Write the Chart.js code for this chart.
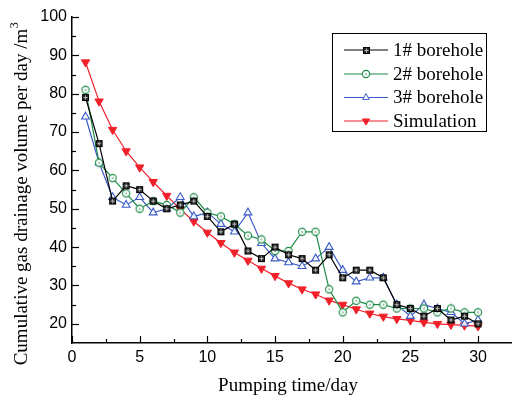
<!DOCTYPE html>
<html>
<head>
<meta charset="utf-8">
<script src="https://cdn.jsdelivr.net/npm/chart.js@4/dist/chart.umd.min.js"></script>
<style>
html,body{margin:0;padding:0;background:#fff;}
#wrap{width:517px;height:396px;}
</style>
</head>
<body>
<div id="wrap"><canvas id="c" width="517" height="396"></canvas></div>
<script>
// ---- data ----
const days = [1,2,3,4,5,6,7,8,9,10,11,12,13,14,15,16,17,18,19,20,21,22,23,24,25,26,27,28,29,30];
const borehole1 = [79,67,52,56,55,52,50,51,52,48,44,46,39,37,40,38,37,34,38,32,34,34,32,25,24,22,24,21,22,20];
const borehole2 = [81,62,58,54,50,52,51,49,53,49,48,46,43,42,39,39,44,44,29,23,26,25,25,24,24,24,23,24,23,23];
const borehole3 = [74,62,53,51,53,49,50,53,48,49,46,44,49,41,37,36,35,37,40,34,31,32,32,25,22,25,24,23,20,21];
const simulation = [88.2,78,70.6,65,60.8,57,53.4,49.9,46.7,43.8,41.1,38.6,36.5,34.4,32.5,30.6,29,27.7,26.1,25,23.8,22.7,21.9,21.3,20.9,20.4,20,19.8,19.6,19.4];
const seriesLabels = ['1# borehole','2# borehole','3# borehole','Simulation'];
const xTickValues = [0,5,10,15,20,25,30];
const yTickValues = [20,30,40,50,60,70,80,90,100];
const xTitle = 'Pumping time/day';
const yTitle = 'Cumulative gas drainage volume per day /m';
const yTitleSup = '3';

const SERIF = '"Liberation Serif", "DejaVu Serif", serif';
const SANS = '"Liberation Sans", Arial, sans-serif';

const COL = { b1:'#000000', b2:'#1b8a44', b3:'#3b5cc6', sim:'#f0202a' };

function makeSquare(){
  const c=document.createElement('canvas'); c.width=9; c.height=9;
  const g=c.getContext('2d');
  g.fillStyle='#2a2a2a'; g.fillRect(1,1,7,7);
  g.strokeStyle='#000'; g.lineWidth=1; g.strokeRect(1.5,1.5,6,6);
  g.strokeStyle='#b8b8b8'; g.beginPath(); g.moveTo(4.5,2.5); g.lineTo(4.5,6.5); g.moveTo(2.5,4.5); g.lineTo(6.5,4.5); g.stroke();
  return c;
}
function makeCircle(color){
  const c=document.createElement('canvas'); c.width=10; c.height=10;
  const g=c.getContext('2d');
  g.fillStyle='#fff'; g.beginPath(); g.arc(5,5,3.6,0,Math.PI*2); g.fill();
  g.strokeStyle=color; g.lineWidth=1.1; g.beginPath(); g.arc(5,5,3.6,0,Math.PI*2); g.stroke();
  g.fillStyle=color; g.fillRect(4.4,4.4,1.3,1.3);
  return c;
}
const sqImg = makeSquare();
const ciImg = makeCircle(COL.b2);

function pts(arr){ return days.map((d,i)=>({x:d,y:arr[i]})); }

const datasets = [
  {label:seriesLabels[0], data:pts(borehole1), borderColor:COL.b1, backgroundColor:COL.b1, borderWidth:1.2, pointStyle:sqImg, pointRadius:4, tension:0},
  {label:seriesLabels[1], data:pts(borehole2), borderColor:COL.b2, backgroundColor:'#fff', borderWidth:1.2, pointStyle:ciImg, pointRadius:4, tension:0},
  {label:seriesLabels[2], data:pts(borehole3), borderColor:COL.b3, backgroundColor:'rgba(255,255,255,0.9)', borderWidth:1.2, pointStyle:'triangle', pointRadius:4.5, pointBorderWidth:1.1, tension:0},
  {label:seriesLabels[3], data:pts(simulation), borderColor:COL.sim, backgroundColor:COL.sim, borderWidth:1.2, pointStyle:'triangle', pointRotation:180, pointRadius:4.8, pointBorderWidth:1, tension:0}
];

const decor = {
  id:'decor',
  afterDraw(chart){
    const ctx=chart.ctx, xs=chart.scales.x, ys=chart.scales.y, a=chart.chartArea;
    ctx.save();
    // inward ticks
    ctx.strokeStyle='#000'; ctx.lineWidth=1.2;
    for(let v=0; v<=30; v+=2.5){
      const px=Math.round(xs.getPixelForValue(v))+0.5;
      const len=(v%5===0)?7:4;
      ctx.beginPath(); ctx.moveTo(px,a.bottom); ctx.lineTo(px,a.bottom-len); ctx.stroke();
    }
    for(let v=20; v<=100; v+=5){
      const py=Math.round(ys.getPixelForValue(v))+0.5;
      const len=(v%10===0)?7:4;
      ctx.beginPath(); ctx.moveTo(a.left,py); ctx.lineTo(a.left+len,py); ctx.stroke();
    }
    // x title
    ctx.fillStyle='#000';
    ctx.font='19px '+SERIF;
    ctx.textAlign='center'; ctx.textBaseline='alphabetic';
    ctx.fillText(xTitle, 288, 391);
    // y title (rotated) with superscript
    ctx.save();
    ctx.translate(27, 194);
    ctx.rotate(-Math.PI/2);
    ctx.font='19px '+SERIF;
    const w1=ctx.measureText(yTitle).width;
    ctx.font='12px '+SERIF;
    const w2=ctx.measureText(yTitleSup).width;
    const total=w1+w2;
    ctx.textAlign='left';
    ctx.font='19px '+SERIF;
    ctx.fillText(yTitle, -total/2, 0);
    ctx.font='12px '+SERIF;
    ctx.fillText(yTitleSup, -total/2+w1+0.5, -9);
    ctx.restore();
    // legend
    const lx=332.5, ly=33.5, lw=154, lh=98;
    ctx.fillStyle='#fff'; ctx.fillRect(lx,ly,lw,lh);
    ctx.strokeStyle='#000'; ctx.lineWidth=1; ctx.strokeRect(lx,ly,lw,lh);
    const rows=[50,74,97.5,121];
    chart.data.datasets.forEach((ds,i)=>{
      const y=rows[i];
      ctx.strokeStyle=ds.borderColor; ctx.lineWidth=1.2;
      ctx.beginPath(); ctx.moveTo(344,y); ctx.lineTo(388,y); ctx.stroke();
      const cx=366;
      if(ds.pointStyle instanceof HTMLCanvasElement){
        const im=ds.pointStyle;
        ctx.drawImage(im, Math.round(cx-im.width/2), Math.round(y-im.height/2));
      } else {
        const r=ds.pointRadius*0.85;
        const rot=(ds.pointRotation||0)*Math.PI/180;
        ctx.save(); ctx.translate(cx,y); ctx.rotate(rot);
        ctx.beginPath();
        ctx.moveTo(0,-r); ctx.lineTo(r*0.866, r*0.5); ctx.lineTo(-r*0.866, r*0.5); ctx.closePath();
        ctx.fillStyle=ds.backgroundColor; ctx.fill();
        ctx.strokeStyle=ds.borderColor; ctx.lineWidth=1; ctx.stroke();
        ctx.restore();
      }
      ctx.fillStyle='#000'; ctx.font='19px '+SERIF; ctx.textAlign='left'; ctx.textBaseline='middle';
      ctx.fillText(ds.label, 393, y+1);
    });
    ctx.restore();
  }
};

new Chart(document.getElementById('c'), {
  type:'line',
  data:{datasets},
  options:{
    responsive:false,
    animation:false,
    devicePixelRatio:1,
    layout:{padding:{top:17,left:0,right:0,bottom:0}},
    plugins:{legend:{display:false}, tooltip:{enabled:false}, title:{display:false}},
    scales:{
      x:{
        type:'linear', min:0, max:32.45,
        afterBuildTicks(s){ s.ticks = xTickValues.map(v=>({value:v})); },
        afterFit(s){ s.height=53; },
        grid:{display:false, drawTicks:false},
        border:{display:true, color:'#000', width:1.5},
        ticks:{padding:5, color:'#000', font:{family:SANS, size:16}, maxRotation:0, autoSkip:false}
      },
      y:{
        type:'linear', min:15, max:100,
        afterBuildTicks(s){ s.ticks = yTickValues.map(v=>({value:v})); },
        afterFit(s){ s.width=72; },
        grid:{display:false, drawTicks:false},
        border:{display:true, color:'#000', width:1.5},
        ticks:{padding:5, color:'#000', font:{family:SANS, size:16}, autoSkip:false}
      }
    }
  },
  plugins:[decor]
});
</script>
</body>
</html>
